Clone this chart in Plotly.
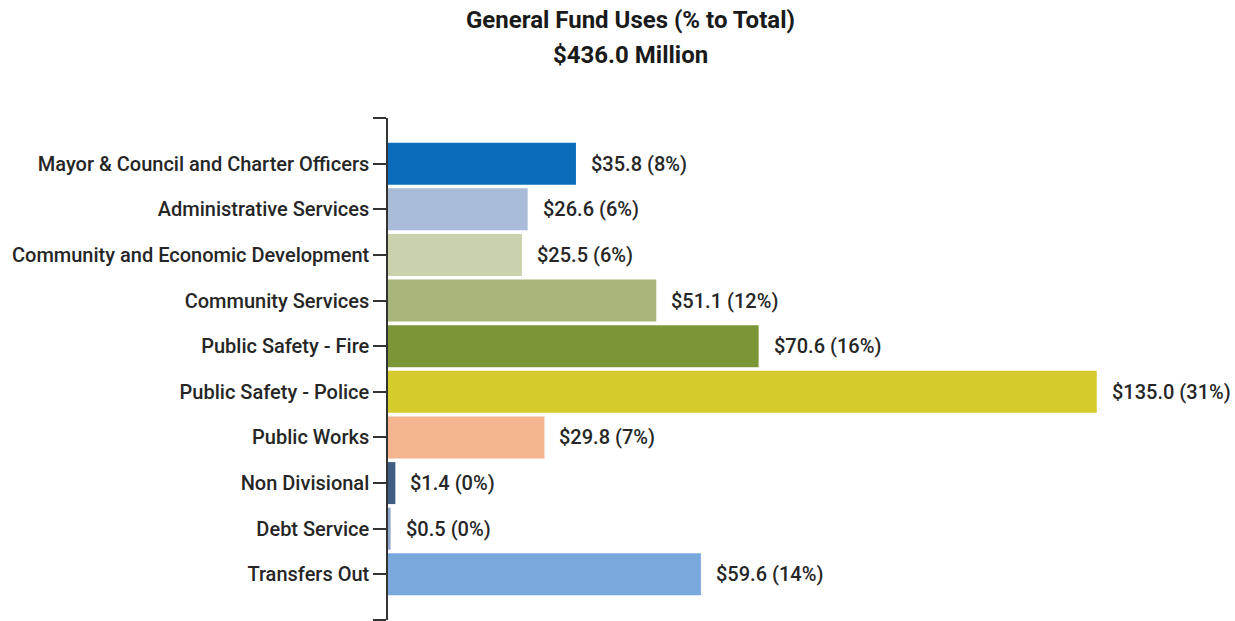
import plotly.graph_objects as go

# General Fund uses by department, $ millions
categories = [
    "Mayor & Council and Charter Officers",
    "Administrative Services",
    "Community and Economic Development",
    "Community Services",
    "Public Safety - Fire",
    "Public Safety - Police",
    "Public Works",
    "Non Divisional",
    "Debt Service",
    "Transfers Out",
]
amounts = [35.8, 26.6, 25.5, 51.1, 70.6, 135.0, 29.8, 1.4, 0.5, 59.6]
percents = [8, 6, 6, 12, 16, 31, 7, 0, 0, 14]
title_lines = ["General Fund Uses (% to Total)", "$436.0 Million"]

bar_colors = [
    "#0b6cbb", "#a8bbd9", "#c9d2ad", "#a7b578", "#7b9636",
    "#d6cb2c", "#f3b48e", "#3f5c82", "#8fa9cc", "#79a8dc",
]

FONT = "Roboto"
TEXT_COLOR = "#262626"

positions = list(range(len(categories)))

fig = go.Figure()
fig.add_trace(go.Bar(
    x=amounts,
    y=positions,
    orientation="h",
    width=0.92,
    marker=dict(color=bar_colors, line=dict(width=0)),
    hoverinfo="skip",
))

# value labels to the right of each bar
for pos, amt, pct in zip(positions, amounts, percents):
    fig.add_annotation(
        x=amt, y=pos, xref="x", yref="y",
        text=f"${amt:.1f} ({pct}%)",
        showarrow=False, xanchor="left", yanchor="middle", xshift=13,
        font=dict(family=FONT, size=20, color=TEXT_COLOR, weight=500),
    )

# two-line heading above the plot
for line, ypos in zip(title_lines, [1.195, 1.1255]):
    fig.add_annotation(
        x=0.289, y=ypos, xref="paper", yref="paper",
        text=line, showarrow=False, xanchor="center", yanchor="middle",
        font=dict(family=FONT, size=24, color="#1a1a1a", weight="bold"),
    )

# empty end ticks cap the category axis at top and bottom
tickvals = [-1] + positions + [len(categories)]
ticktext = [""] + categories + [""]

fig.update_layout(
    width=1235, height=621,
    paper_bgcolor="white", plot_bgcolor="white",
    margin=dict(l=388, r=7, t=118, b=1),
    showlegend=False,
    xaxis=dict(range=[0, 160], visible=False, fixedrange=True),
    yaxis=dict(
        range=[len(categories), -1], autorange=False,
        tickmode="array", tickvals=tickvals, ticktext=ticktext,
        ticks="outside", ticklen=13, tickwidth=1.5, tickcolor="#333333",
        showline=True, linecolor="#333333", linewidth=1.5,
        showgrid=False, zeroline=False,
        tickfont=dict(family=FONT, size=20, color=TEXT_COLOR, weight=500),
    ),
)

fig.write_html("out.html")
